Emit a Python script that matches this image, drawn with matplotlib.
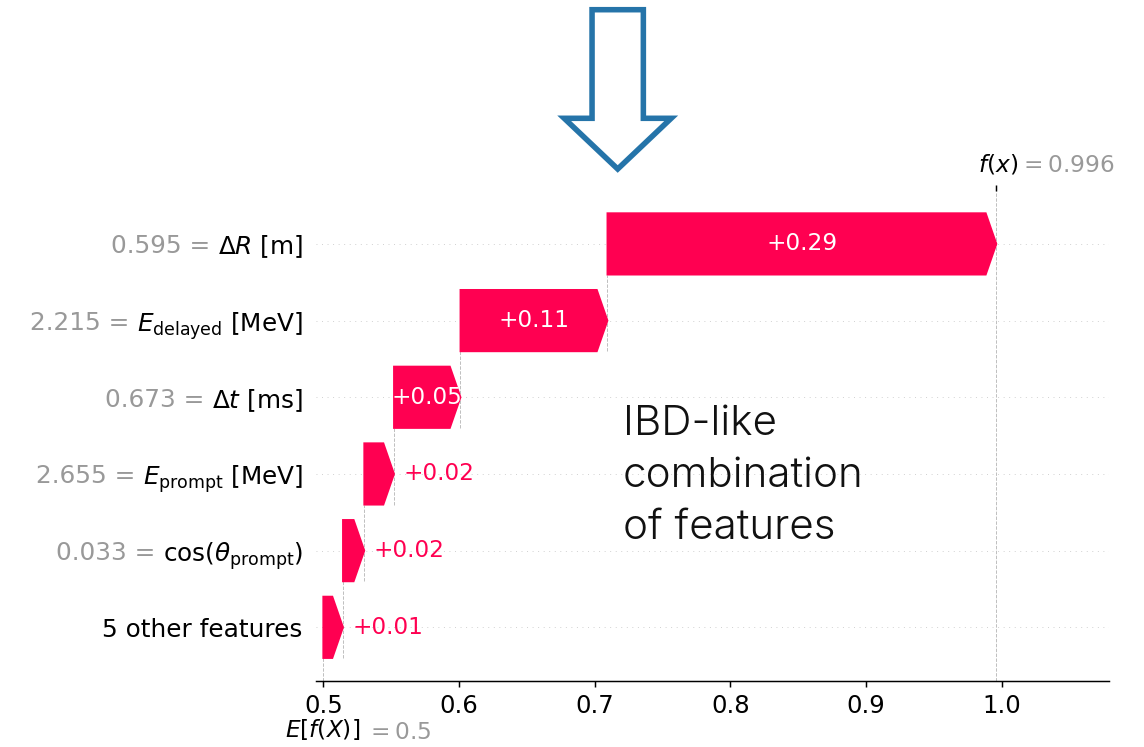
import numpy as np
import matplotlib
matplotlib.use("Agg")
import matplotlib.pyplot as plt
import matplotlib.transforms as mtransforms
from matplotlib.patches import FancyArrow

# ---- data -----------------------------------------------------------------
feature_names = [
    r"$\Delta R$ [m]",
    r"$E_\mathrm{delayed}$ [MeV]",
    r"$\Delta t$ [ms]",
    r"$E_\mathrm{prompt}$ [MeV]",
    r"$\cos(\theta_\mathrm{prompt})$",
    "5 other features",
]
feature_values = ["0.595", "2.215", "0.673", "2.655", "0.033", None]
shap_values = [0.2866, 0.1083, 0.0490, 0.0219, 0.0157, 0.0145]
base_value = 0.5
x_ticks = [0.5, 0.6, 0.7, 0.8, 0.9, 1.0]

RED = (1.0, 0.0, 0.31796)
GRAY = "#999999"
DPI = 133


def fmt(v, f="%0.03f"):
    s = f % v
    if "." in s:
        s = s.rstrip("0").rstrip(".")
    return s


values = np.array(shap_values)
n = len(values)
fx = base_value + values.sum()

fig = plt.figure(figsize=(1144 / DPI, 747 / DPI), dpi=DPI)
ax = fig.add_axes([0.27596, 0.08835, 0.69345, 0.65596])
ax.set_xlim(0.4944, 1.079)
ax.set_ylim(-0.70, 5.69)

# rows: largest contribution on top
rows = np.arange(n)[::-1]
lefts = np.array([base_value + values[i + 1:].sum() for i in range(n)])

# dotted guides for every row
for r in rows:
    ax.axhline(r, color="#cccccc", lw=0.5, dashes=(1, 5), zorder=-1)

# expected value and model output markers
ax.axvline(base_value, 0, 1 / n, color="#bbbbbb", linestyle="--", linewidth=0.5, zorder=-1)
ax.axvline(fx, 0, 1, color="#bbbbbb", linestyle="--", linewidth=0.5, zorder=-1)

# connecting lines between consecutive bars
for i in range(n - 1):
    r = rows[i]
    loc = lefts[i]
    ax.plot([loc, loc], [r - 1 - 0.4, r - 0.4], color="#bbbbbb", linestyle="--",
            linewidth=0.5, zorder=-1)

# arrow-shaped bars
head_length = 0.08
bar_width = 0.8
xlen = ax.get_xlim()[1] - ax.get_xlim()[0]
bbox = ax.get_window_extent().transformed(fig.dpi_scale_trans.inverted())
bbox_to_xscale = xlen / bbox.width
hl_scaled = bbox_to_xscale * head_length
renderer = fig.canvas.get_renderer()

for i in range(n):
    dist = values[i]
    arrow = ax.arrow(lefts[i], rows[i], max(dist - hl_scaled, 1e-6), 0,
                     head_length=min(dist, hl_scaled), color=RED,
                     width=bar_width, head_width=bar_width)
    label = "%+0.02f" % dist
    txt = ax.text(lefts[i] + 0.5 * dist, rows[i], label, ha="center", va="center",
                  color="white", fontsize=12.5)
    tb = txt.get_window_extent(renderer=renderer)
    ab = arrow.get_window_extent(renderer=renderer)
    # labels that clearly do not fit go to the right of the bar
    if tb.width > ab.width * 1.15:
        txt.remove()
        ax.text(lefts[i] + (5 / 72) * bbox_to_xscale + dist, rows[i], label,
                ha="left", va="center", color=RED, fontsize=12.5)

# row labels: feature name in black, its value in gray just to the left
ax.set_yticks([])
ylab = ax.get_yaxis_transform() + mtransforms.ScaledTranslation(-7 / 72, 0, fig.dpi_scale_trans)
for r, name, val in zip(rows, feature_names, feature_values):
    name_txt = ax.text(0, r, name, transform=ylab, ha="right", va="center_baseline",
                       fontsize=13.4, color="black")
    if val is not None:
        ax.annotate(f"{val} = ", xy=(0, r), xycoords=(name_txt, "data"),
                    xytext=(0.2, 0), textcoords="offset points",
                    ha="right", va="center_baseline", fontsize=13.4, color=GRAY)

ax.set_xticks(x_ticks)
ax.set_xticklabels([f"{t:.1f}" for t in x_ticks], fontsize=13.2)
for s in ("top", "right", "left"):
    ax.spines[s].set_visible(False)
ax.xaxis.set_ticks_position("bottom")

# f(x) tick mark on top
ax3 = ax.twiny()
ax3.set_xlim(ax.get_xlim())
ax3.set_xticks([fx])
ax3.set_xticklabels([""])
for s in ("top", "right", "left", "bottom"):
    ax3.spines[s].set_visible(False)

blend = mtransforms.blended_transform_factory(ax.transData, ax.transAxes)


def off(dx, dy):
    return mtransforms.ScaledTranslation(dx / 72, dy / 72, fig.dpi_scale_trans)


ax.text(fx, 1, "$f(x)$", transform=blend + off(-10, 10.3), ha="left", va="baseline",
        fontsize=12.6, color="black")
ax.text(fx, 1, "$ = " + fmt(fx) + "$", transform=blend + off(12, 10.3), ha="left",
        va="baseline", fontsize=12.6, color=GRAY)

ax.text(base_value, 0, "$E[f(X)]$", transform=blend + off(-21, -30.3), ha="left",
        va="baseline", fontsize=12.6, color="black")
ax.text(base_value, 0, "$ = " + fmt(base_value) + "$", transform=blend + off(23, -31.3),
        ha="left", va="baseline", fontsize=12.6, color=GRAY)

# hollow pointer arrow and caption
W, H = 1144.0, 747.0
arrow_top = 9.7
arrow_tip = 169.0
big = FancyArrow(617.7 / W, (H - arrow_top) / H, 0, -(arrow_tip - arrow_top) / H,
                 width=51.3 / W, head_width=107.0 / W, head_length=50.7 / H,
                 length_includes_head=True, transform=fig.transFigure,
                 facecolor="white", edgecolor="#2574a9", linewidth=3.0,
                 joinstyle="miter")
fig.patches.append(big)

fig.text(623 / W, (H - 405) / H, "IBD-like\ncombination\nof features",
         family=["Inter", "DejaVu Sans"], fontweight=300, fontsize=22.8,
         linespacing=1.46, ha="left", va="top", color="#111111")

fig.savefig("out.png", dpi=DPI)
